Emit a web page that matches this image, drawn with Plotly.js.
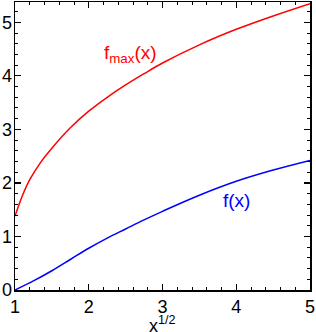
<!DOCTYPE html>
<html>
<head>
<meta charset="utf-8">
<script src="https://cdn.plot.ly/plotly-3.0.1.min.js"></script>
<style>html,body{margin:0;padding:0;background:#fff;}#chart{width:316px;height:332px;}</style>
</head>
<body>
<div id="chart"></div>
<script>
const xFmax = [1, 1.1, 1.2, 1.35, 1.5, 1.75, 2, 2.25, 2.5, 2.75, 3, 3.5, 4, 4.5, 5];
const yFmax = [1.38, 1.76, 2.06, 2.39, 2.65, 3.03, 3.34, 3.60, 3.83, 4.04, 4.24, 4.58, 4.87, 5.12, 5.35];
const xF = [1, 1.25, 1.5, 1.75, 2, 2.25, 2.5, 2.75, 3, 3.5, 4, 4.5, 5];
const yF = [0, 0.17, 0.36, 0.57, 0.78, 0.97, 1.14, 1.31, 1.47, 1.77, 2.03, 2.24, 2.42];
const labelFmax = "f<sub>max</sub>(x)";
const labelF = "f(x)";
const xTitle = "x<sup>1/2</sup>";

const font = {family: "Liberation Sans, Arial, sans-serif", size: 18, color: "#000"};
const traces = [
  {x: xFmax, y: yFmax, mode: "lines", line: {color: "#ff0000", width: 1.5, shape: "spline", smoothing: 1}, hoverinfo: "none"},
  {x: xF, y: yF, mode: "lines", line: {color: "#0000ff", width: 1.5, shape: "spline", smoothing: 1}, hoverinfo: "none"}
];
const axisCommon = {
  showline: true, linecolor: "#000", linewidth: 1.5, mirror: "allticks",
  ticks: "inside", ticklen: 6, tickwidth: 1.2, tickcolor: "#000",
  showgrid: false, zeroline: false, tickfont: font,
  minor: {ticks: "inside", ticklen: 3, tickwidth: 1, tickcolor: "#000", dtick: 0.2, showgrid: false}
};
const layout = {
  width: 316, height: 332,
  margin: {l: 15, r: 6, t: 2, b: 41.5},
  paper_bgcolor: "#fff", plot_bgcolor: "#fff",
  showlegend: false,
  font: font,
  xaxis: Object.assign({}, axisCommon, {range: [1, 5], dtick: 1, tick0: 1, automargin: false,
    title: {text: ""}}),
  yaxis: Object.assign({}, axisCommon, {range: [0, 5.38], dtick: 1, tick0: 0, ticklabelstandoff: -2, automargin: false}),
  annotations: [
    {x: 0.5, y: 0, xref: "paper", yref: "paper", yanchor: "bottom", yshift: -46.5, borderpad: 0,
     text: xTitle, showarrow: false, font: font},
    {x: 2.57, y: 4.4, xref: "x", yref: "y", text: labelFmax, showarrow: false,
     font: {family: font.family, size: 19, color: "#ff0000"}},
    {x: 4.01, y: 1.68, xref: "x", yref: "y", text: labelF, showarrow: false,
     font: {family: font.family, size: 19, color: "#0000ff"}}
  ]
};
Plotly.newPlot("chart", traces, layout, {displayModeBar: false, staticPlot: true});
</script>
</body>
</html>
